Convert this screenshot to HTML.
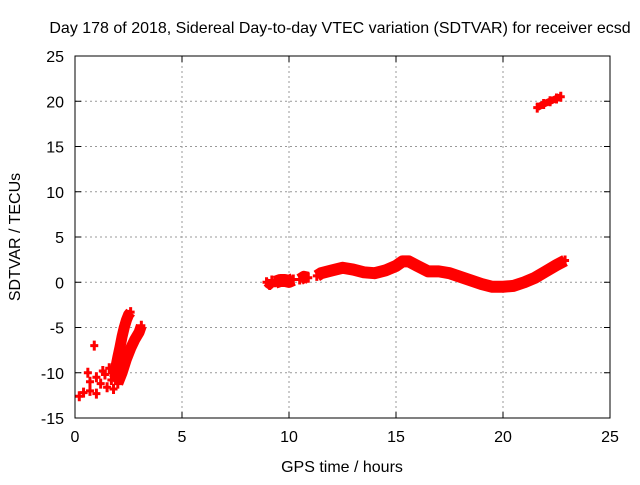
<!DOCTYPE html>
<html><head><meta charset="utf-8"><style>
body{margin:0;background:#fff;}
text{font-family:"Liberation Sans",sans-serif;font-size:16px;fill:#000;}
</style></head><body>
<svg id="chart" width="640" height="480" xmlns="http://www.w3.org/2000/svg">
<rect width="640" height="480" fill="#fff"/>
<text x="340" y="33" text-anchor="middle">Day 178 of 2018, Sidereal Day-to-day VTEC variation (SDTVAR) for receiver ecsd</text>
<text x="342" y="472" text-anchor="middle">GPS time / hours</text>
<text transform="translate(20,237) rotate(-90)" text-anchor="middle">SDTVAR / TECUs</text>
<g id="grid"></g><g id="axes"></g><g id="marks"></g>
<rect x="75" y="56" width="535" height="362" fill="none" stroke="#000" stroke-width="1"/>
</svg>
<script>
const xTicks=[0,5,10,15,20,25];
const yTicks=[-15,-10,-5,0,5,10,15,20,25];
// segments of the SDTVAR band: [hours], [TECU]
const seg1X=[8.95,9.1,9.2];
const seg1Y=[0.0,-0.3,0.2];
const seg2X=[9.35,9.6,9.8,10.0,10.2];
const seg2Y=[0.0,0.2,0.2,0.1,0.3];
const seg3X=[10.5,10.7,10.9];
const seg3Y=[0.3,0.6,0.5];
const seg4X=[11.3,11.5,12.0,12.5,13.0,13.5,14.0,14.5,15.0,15.3,15.6,16.0,16.5,17.0,17.5,18.0,18.5,19.0,19.5,20.0,20.5,21.0,21.5,22.0,22.5,22.9];
const seg4Y=[0.7,1.0,1.3,1.6,1.4,1.1,1.0,1.3,1.8,2.3,2.3,1.8,1.2,1.2,1.0,0.6,0.2,-0.2,-0.5,-0.5,-0.4,0.0,0.5,1.2,1.9,2.4];
const seg5X=[21.6,21.9,22.2,22.5,22.7];
const seg5Y=[19.3,19.7,20.0,20.3,20.5];
const strandAX=[1.8,1.9,2.0,2.1,2.2,2.3,2.4,2.5,2.6];
const strandAY=[-10.3,-9.5,-8.3,-7.2,-6.0,-5.0,-4.2,-3.6,-3.3];
const strandBX=[2.0,2.2,2.4,2.6,2.8,3.0,3.1];
const strandBY=[-11.2,-10.0,-8.5,-7.3,-6.3,-5.5,-4.8];
const scatterX=[0.2,0.4,0.6,0.7,0.9,1.0,1.0,1.2,1.3,1.5,1.6,1.7,0.7,1.4,1.8];
const scatterY=[-12.6,-12.2,-10.0,-11.0,-7.0,-12.3,-10.5,-11.2,-9.8,-11.6,-9.5,-10.8,-12.0,-10.2,-11.8];
const X=v=>75+v*(535/25), Y=v=>418-(v+15)*(362/40);
const NS="http://www.w3.org/2000/svg";
function mk(t,a,p){const e=document.createElementNS(NS,t);for(const k in a)e.setAttribute(k,a[k]);p.appendChild(e);return e;}
const grid=document.getElementById('grid'),axes=document.getElementById('axes'),marks=document.getElementById('marks');
xTicks.forEach(t=>{const x=X(t);
 if(t>0&&t<25){const g=mk('line',{x1:x,x2:x,y1:56,y2:418,stroke:'#999','stroke-dasharray':'2,3'},grid);
 
 }
 mk('line',{x1:x,x2:x,y1:418,y2:412,stroke:'#000'},axes);mk('line',{x1:x,x2:x,y1:56,y2:62,stroke:'#000'},axes);
 const l=mk('text',{x:x,y:442,'text-anchor':'middle'},axes);l.textContent=t;
 
 });
yTicks.forEach(t=>{const y=Y(t);
 if(t>-15&&t<25){const g=mk('line',{x1:75,x2:610,y1:y,y2:y,stroke:'#999','stroke-dasharray':'2,3'},grid);
 
 }
 mk('line',{x1:75,x2:81,y1:y,y2:y,stroke:'#000'},axes);mk('line',{x1:610,x2:604,y1:y,y2:y,stroke:'#000'},axes);
 const l=mk('text',{x:64,y:y+6,'text-anchor':'end'},axes);l.textContent=t;
 
 });
function series(xs,ys,w,name){
 if(xs.length>1&&w>0){const p=mk('polyline',{points:xs.map((v,i)=>X(v)+','+Y(ys[i])).join(' '),fill:'none',stroke:'#f00','stroke-width':w,'stroke-linejoin':'round','stroke-linecap':'butt'},marks);
 
 }
 xs.forEach((v,i)=>{const x=X(v),y=Y(ys[i]);
  const g=mk('path',{d:`M${x-4},${y}h8M${x},${y-5}v10`,stroke:'#f00','stroke-width':3},marks);
  
  });
}
series(seg1X,seg1Y,9,'segment-1');
series(seg2X,seg2Y,13,'segment-2');
series(seg3X,seg3Y,12,'segment-3');
series(seg4X,seg4Y,12,'segment-4');
series(seg5X,seg5Y,7,'segment-5');
series(strandAX,strandAY,11,'strand-a');
series(strandBX,strandBY,11,'strand-b');
series(scatterX,scatterY,0,'scatter');
</script>
</body></html>
